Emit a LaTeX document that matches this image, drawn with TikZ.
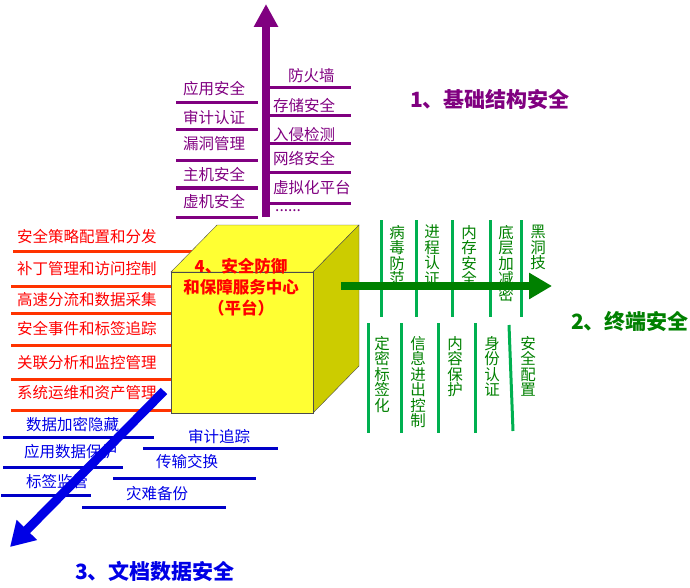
\documentclass[tikz,border=0pt]{standalone}
\usepackage{fontspec}
\setmainfont{Noto Sans CJK SC}
\usetikzlibrary{arrows.meta}
\definecolor{layerpurple}{RGB}{128,0,128}
\definecolor{centrered}{RGB}{255,0,0}
\definecolor{centreline}{RGB}{255,51,0}
\definecolor{docblue}{RGB}{0,0,230}
\definecolor{docline}{RGB}{0,0,200}
\definecolor{termgreen}{RGB}{0,128,0}
\definecolor{termline}{RGB}{0,176,80}
\definecolor{cubefront}{RGB}{255,255,51}
\definecolor{cubeside}{RGB}{204,204,0}

\begin{document}
\begin{tikzpicture}[x=1pt,y=-1pt,
  lbl/.style={anchor=west,inner sep=0pt,font=\fontsize{15.5}{15.5}\selectfont},
  vlbl/.style={anchor=north,inner sep=0pt,align=center,text=termgreen,font=\fontsize{15.5}{15.5}\selectfont},
  ttl/.style={anchor=west,inner sep=0pt,font=\fontsize{21}{21}\selectfont\bfseries},
  rule/.style={line width=3pt},
  bigarrow/.style={line width=8pt,-{Triangle[length=23pt,width=23pt]}}]

\useasboundingbox (0,0) rectangle (690,588);

% 1 infrastructure
\foreach \y in {103,130,161,188,217} \draw[rule,layerpurple] (176,\y) -- (258,\y);
\foreach \y in {88,116,144,173,203} \draw[rule,layerpurple] (269,\y) -- (351,\y);
\foreach \t/\y [count=\i] in {应用安全/89,审计认证/118,漏洞管理/144,主机安全/175,虚机安全/202}
  \node[lbl,text=layerpurple] (infl\i) at (183,\y) {\t};
\node[lbl,text=layerpurple] (infr1) at (288,76) {防火墙};
\foreach \t/\y [count=\i from 2] in {存储安全/106,入侵检测/135,网络安全/158,虚拟化平台/188}
  \node[lbl,text=layerpurple] (infr\i) at (273,\y) {\t};
\node[lbl,text=layerpurple] (infdots) at (275,211) {......};
\coordinate (infbase) at (266,217);
\coordinate (inftip) at (266,4);
\draw[bigarrow,layerpurple] (infbase) -- (inftip);
\node[ttl,text=layerpurple] (inftitle) at (410,100) {1、基础结构安全};

% 4 centre
\draw[rule,centreline] (13,251) -- (193,251);
\foreach \y in {286,313,345,379,410} \draw[rule,centreline] (11,\y) -- (173,\y);
\foreach \t/\y [count=\i] in {安全策略配置和分发/237,补丁管理和访问控制/269,高速分流和数据采集/300,安全事件和标签追踪/329,关联分析和监控管理/363,系统运维和资产管理/393}
  \node[lbl,text=centrered] (ctr\i) at (17,\y) {\t};
\draw[fill=cubefront,draw=black!70] (171,272) -- (217,225) -- (359,225) -- (313,272) -- cycle;
\draw[fill=cubeside,draw=black!70] (313,272) -- (359,225) -- (359,366) -- (313,413) -- cycle;
\draw[fill=cubefront,draw=black!70] (171,272) rectangle (313,413);
\node[align=center,inner sep=0pt,text=centrered,font=\fontsize{16.5}{21}\selectfont\bfseries] (centre) at (241,287)
  {4、安全防御\\和保障服务中心\\（平台）};

% 2 terminal
\foreach \x in {381,416,452,490,521} \draw[rule,termline] (\x,220) -- (\x,317);
\foreach \x in {368,401,438,475} \draw[rule,termline] (\x,323) -- (\x,433);
\draw[rule,termline] (509,325) -- (513,431);
\foreach \t/\x [count=\i] in {病\\毒\\防\\范/397,进\\程\\认\\证/432,内\\存\\安\\全/469,底\\层\\加\\减\\密/506,黑\\洞\\技/538}
  \node[vlbl] (termt\i) at (\x,225) {\t};
\foreach \t/\x [count=\i] in {定\\密\\标\\签\\化/382,信\\息\\进\\出\\控\\制/418,内\\容\\保\\护/455,身\\份\\认\\证/492,安\\全\\配\\置/528}
  \node[vlbl] (termb\i) at (\x,336) {\t};
\coordinate (termbase) at (341,286);
\coordinate (termtip) at (552,286);
\draw[bigarrow,termgreen,-{Triangle[length=23pt,width=25pt]}] (termbase) -- (termtip);
\node[ttl,text=termgreen] (termtitle) at (571,322) {2、终端安全};

% 3 documents
\foreach \a/\b/\y in {3/154/437,3/123/467,1/91/495,143/278/448,113/256/478,82/226/507}
  \draw[rule,docline] (\a,\y) -- (\b,\y);
\foreach \t/\x/\y [count=\i] in {数据加密隐藏/26/425,应用数据保护/24/452,标签监管/26/482,审计追踪/188/437,传输交换/156/462,灾难备份/126/494}
  \node[lbl,text=docblue] (doc\i) at (\x,\y) {\t};
\coordinate (docbase) at (164,391);
\coordinate (doctip) at (10,547);
\draw[bigarrow,docblue,line width=9pt,-{Triangle[length=24pt,width=27pt]}] (docbase) -- (doctip);
\node[ttl,text=docblue] (doctitle) at (75,571) {3、文档数据安全};

\end{tikzpicture}
\end{document}
